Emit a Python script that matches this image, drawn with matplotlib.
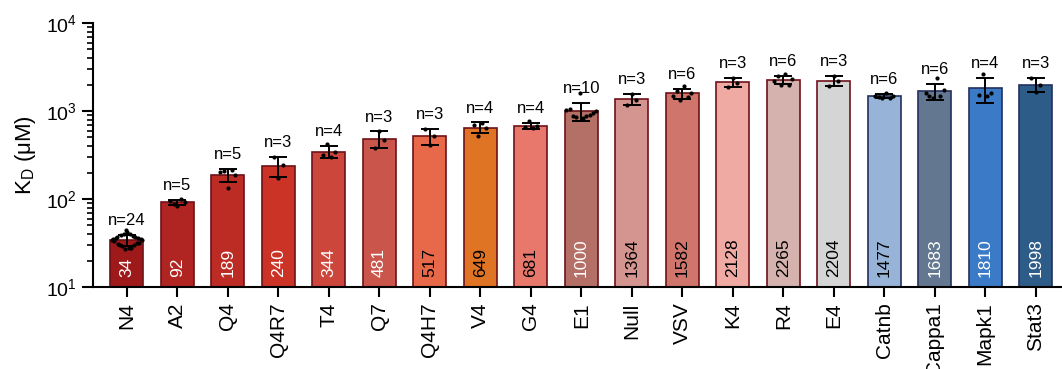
import numpy as np
import matplotlib
matplotlib.use("Agg")
import matplotlib.pyplot as plt
from matplotlib.ticker import LogLocator

plt.rcParams['font.family'] = ['Liberation Sans', 'DejaVu Sans']
plt.rcParams['mathtext.fontset'] = 'custom'
plt.rcParams['mathtext.rm'] = 'Liberation Sans'
plt.rcParams['mathtext.it'] = 'Liberation Sans:italic'
plt.rcParams['mathtext.bf'] = 'Liberation Sans:bold'

categories = ["N4", "A2", "Q4", "Q4R7", "T4", "Q7", "Q4H7", "V4", "G4", "E1",
              "Null", "VSV", "K4", "R4", "E4", "Catnb", "Cappa1", "Mapk1", "Stat3"]
means = [34, 92, 189, 240, 344, 481, 517, 649, 681, 1000,
         1364, 1582, 2128, 2265, 2204, 1477, 1683, 1810, 1998]
points = [
    [44, 42, 40, 40, 39, 38, 37, 37, 36, 36, 35, 35, 34, 34, 33, 32, 32, 31, 30, 30, 29, 28, 28, 27],
    [100, 96, 92, 88, 84],
    [205, 210, 185, 212, 133],
    [300, 245, 175],
    [420, 340, 320, 300],
    [590, 470, 383],
    [620, 520, 411],
    [740, 690, 640, 526],
    [760, 680, 650, 634],
    [1590, 1060, 1040, 1000, 960, 900, 880, 870, 860, 840],
    [1580, 1330, 1182],
    [1900, 1700, 1600, 1500, 1450, 1342],
    [2400, 2100, 1884],
    [2600, 2500, 2300, 2200, 2000, 1990],
    [2500, 2200, 1912],
    [1620, 1500, 1480, 1450, 1420, 1392],
    [2350, 1750, 1600, 1500, 1480, 1418],
    [2650, 1600, 1520, 1470],
    [2350, 2000, 1644],
]
fill_colors = ["#9e1a1a", "#b02422", "#bc2c25", "#cc3327", "#cc463c", "#c9554b",
               "#e8694a", "#de7424", "#e8786b", "#b46f67", "#d4948f", "#d0756b",
               "#efaaa3", "#d5b2ae", "#d5d5d5", "#97b3d8", "#637890", "#3a7ac6", "#2e5c88"]
edge_colors = ["#6e1218"] * 15 + ["#24305f"] * 4
label_colors = ["white"] * 6 + ["black"] * 3 + ["white"] + ["black"] * 6 + ["white"] * 3

fig = plt.figure(figsize=(10.62, 3.69), dpi=100)
ax = fig.add_axes([93 / 1062, 1 - 287 / 369, 1 - 93 / 1062, (287 - 23) / 369])

x = np.arange(len(categories))
ax.bar(x, means, width=0.65, color=fill_colors, edgecolor=edge_colors,
       linewidth=1.2, zorder=2)

sds = [np.std(p, ddof=1) for p in points]
ax.errorbar(x, means, yerr=sds, fmt='none', ecolor='black', elinewidth=1.4,
            capsize=6.5, capthick=1.4, zorder=4)

for i, p in enumerate(points):
    n = len(p)
    spread = min(0.3, 0.03 * n)
    offs = np.linspace(-spread, spread, n)
    order = np.argsort(np.abs(np.array(p) - means[i]))[::-1]
    o2 = np.empty(n)
    alt = sorted(offs, key=lambda v: abs(v))
    o2[order] = alt
    ax.scatter(x[i] + o2, p, s=9, color='black', zorder=5, linewidths=0)

    top = means[i] + sds[i]
    ax.annotate(f"n={n}", (x[i], top), xytext=(0, 5), textcoords='offset points',
                ha='center', va='bottom', fontsize=12, color='black', zorder=6)
    ax.annotate(f"{means[i]}", (x[i], 10), xytext=(0, 7), textcoords='offset points',
                ha='center', va='bottom', rotation=90, fontsize=12.5,
                color=label_colors[i], zorder=6)

ax.set_yscale('log')
ax.set_ylim(10, 1e4)
ax.set_xlim(-0.67, 18.52)
ax.yaxis.set_minor_locator(LogLocator(base=10, subs=np.arange(2, 10), numticks=10))
ax.set_yticks([10, 100, 1000, 10000])
ax.set_yticklabels([r"$10^{1}$", r"$10^{2}$", r"$10^{3}$", r"$10^{4}$"], fontsize=14)
ax.set_xticks(x)
ax.set_xticklabels(categories, rotation=90, fontsize=15)
ax.set_ylabel(r"K$_\mathrm{D}$ ($\mathrm{\mu}$M)", fontsize=16, labelpad=6)

for s in ['top', 'right']:
    ax.spines[s].set_visible(False)
for s in ['left', 'bottom']:
    ax.spines[s].set_linewidth(1.5)
ax.tick_params(axis='y', which='major', direction='out', length=8, width=1.5)
ax.tick_params(axis='y', which='minor', direction='out', length=4, width=1.2)
ax.tick_params(axis='x', which='major', direction='out', length=7, width=1.5, pad=4)

fig.savefig("out.png", dpi=100)
